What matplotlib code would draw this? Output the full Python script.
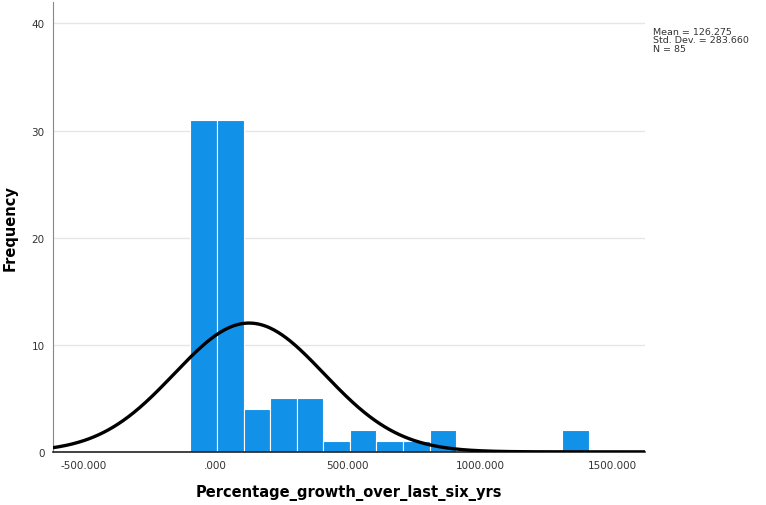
import numpy as np
import matplotlib
matplotlib.use("Agg")
import matplotlib.pyplot as plt

# histogram bins and counts
bin_start = -96.0
bin_width = 100.6
counts = [31, 31, 4, 5, 5, 1, 2, 1, 1, 2, 0, 0, 0, 0, 2]
mean = 126.275
std = 283.660
n = 85
x_ticks = [-500, 0, 500, 1000, 1500]
x_labels = ["-500.000", ".000", "500.000", "1000.000", "1500.000"]
y_ticks = [0, 10, 20, 30, 40]

fig = plt.figure(figsize=(7.66, 5.06), dpi=100)
ax = fig.add_axes([0.069, 0.105, 0.773, 0.889])

left = bin_start + bin_width * np.arange(len(counts))
ax.bar(left, counts, width=bin_width, align="edge", color="#1192e8",
       edgecolor="white", linewidth=0.8, zorder=2)

# normal curve scaled to the histogram
xs = np.linspace(-620, 1630, 600)
ys = n * bin_width / (std * np.sqrt(2 * np.pi)) * np.exp(-0.5 * ((xs - mean) / std) ** 2)
ax.plot(xs, ys, color="black", linewidth=2.4, zorder=3)

ax.set_xlim(-617, 1625)
ax.set_ylim(0, 42)
ax.set_xticks(x_ticks)
ax.set_xticklabels(x_labels)
ax.set_yticks(y_ticks)
ax.tick_params(length=0, labelsize=7.5, colors="#333333", pad=6)
ax.yaxis.grid(True, color="#e6e6e6", linewidth=1, zorder=0)
ax.set_axisbelow(True)

for s in ["top", "right"]:
    ax.spines[s].set_visible(False)
ax.spines["left"].set_color("#888888")
ax.spines["bottom"].set_color("#222222")
ax.spines["bottom"].set_linewidth(1.2)

ax.set_xlabel("Percentage_growth_over_last_six_yrs", fontsize=10.5,
              fontweight="bold", labelpad=10)
ax.set_ylabel("Frequency", fontsize=10.5, fontweight="bold", labelpad=10)

fig.text(0.853, 0.945, "Mean = %.3f\nStd. Dev. = %.3f\nN = %d" % (mean, std, n),
         fontsize=6.8, color="#333333", va="top", linespacing=0.95)

fig.savefig("out.png", dpi=100, facecolor="white")
